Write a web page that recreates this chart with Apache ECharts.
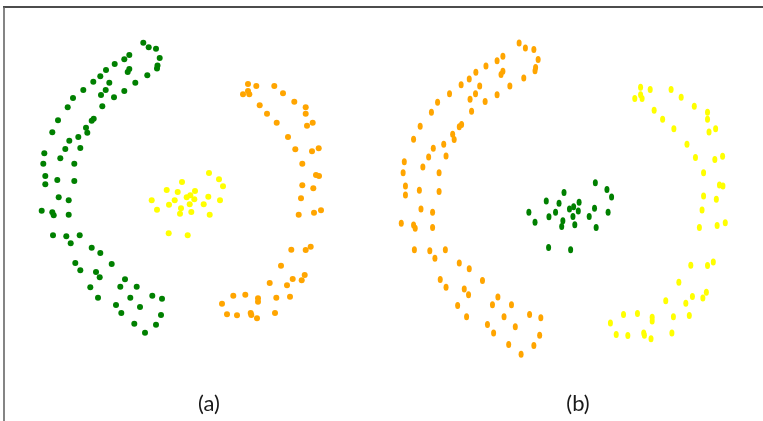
<!DOCTYPE html>
<html>
<head>
<meta charset="utf-8">
<script src="https://cdn.jsdelivr.net/npm/echarts@6/dist/echarts.min.js"></script>
<style>
html,body{margin:0;padding:0;background:#fff;}
#chart{width:763px;height:421px;}
</style>
</head>
<body>
<div id="chart"></div>
<script>
// Data space: x grows right, y grows downward (same for both panels)
const arcLeft = [
 [143.3,42.7],[148.7,47.3],[156,48.7],[159.7,58],[129.3,55],[124.3,59.3],[157.5,65.5],[157,68.5],
 [114.7,64],[129.3,69],[127.7,72],[106,70],[147.3,75.3],[100.3,76.3],[135.3,82.7],[93.3,81.7],
 [109.3,82.7],[105.7,90],[124.3,91],[83.3,90],[101,95],[114,97.3],[73,98],[67.7,107.3],
 [102.3,106.3],[93.7,118.7],[91.7,120.7],[58,120.3],[86,127.7],[87.3,132.7],[52.3,132.3],
 [78.3,137],[69.3,140.7],[65.3,149],[80.3,148],[44.3,153.3],[60.3,158.3],[43.3,163.7],
 [74.3,163.7],[45.3,176],[57.3,180],[74.3,181],[45.3,184.3],[58.7,197.3],[68.7,200.3],
 [41.7,210.7],[52.3,212.3],[53.7,215.3],[68.7,214.7],[53,235.3],[66.3,236.3],[79.7,235.3],
 [70.7,243.3],[91.7,247.7],[100.3,253],[75.3,263],[111.7,264],[80.3,270.3],[96,272],
 [99.7,277.3],[125,279.3],[90.3,287.3],[120.3,286.7],[136.7,286.7],[98,297.7],[130.3,297.7],
 [152.3,295.7],[162,298.7],[116,305],[140,307],[121.3,313],[161,315],[134.3,323.7],
 [156,324.7],[145,332.7]
];
const blobCenter = [
 [209,173],[219,179.3],[223,186.3],[182,182],[166.7,190],[177.7,192],[195,191],[186.7,197.3],
 [190.3,195.3],[208.3,196.7],[194.3,199.3],[174.7,200.3],[151.7,200.3],[220,200.3],[169,204.7],
 [189.7,204.3],[203.7,204.3],[157,209.7],[181,208.3],[191.3,212],[180,213.7],[209.7,214.7],
 [168.7,233.3],[187.7,235.3]
];
const arcRight = [
 [248,84],[256.3,86],[274.3,86],[248,91],[243,94.3],[249.3,94.3],[283,93.3],[294.3,101.7],
 [259.7,105.3],[305.7,107.3],[305.7,113.7],[267,113.7],[276.7,122.7],[307,125.7],[312.7,122.7],
 [288,137],[295.3,149.3],[312,151.3],[318.7,148.3],[302.3,163.7],[316,175],[319,176],
 [302.3,185.3],[313.3,188.3],[301,198.3],[298.7,214.7],[314,212.7],[321,210.3],[291.3,249.7],
 [305.7,250],[310.7,246.7],[281,265.7],[269.7,283],[292.7,279],[304.7,275],[301.7,280.3],
 [287,285.3],[233.3,295.7],[245.3,294.7],[258,298.3],[258,301.7],[276.3,297.7],[290,296.7],
 [222,303.7],[227,314.3],[237,315.3],[250.7,313],[251.3,315],[257,318.3],[275,313]
];
const panelLabels = ['(a)', '(b)'];
const colorsA = ['#008000', '#FFFF00', '#FFA500'];   // left arc, center, right arc
const colorsB = ['#FFA500', '#008000', '#FFFF00'];

const chart = echarts.init(document.getElementById('chart'), null, {renderer: 'canvas'});
const X_MIN = 20, X_MAX = 340, Y_MIN = 30, Y_MAX = 345;
const groups = [arcLeft, blobCenter, arcRight];
const series = [];
groups.forEach((g, i) => {
  series.push({type: 'scatter', xAxisIndex: 0, yAxisIndex: 0, data: g, symbol: 'circle',
    symbolSize: 6, itemStyle: {color: colorsA[i], opacity: 1}, clip: false, silent: true});
  series.push({type: 'scatter', xAxisIndex: 1, yAxisIndex: 1, data: g, symbol: 'circle',
    symbolSize: [5, 7], itemStyle: {color: colorsB[i], opacity: 1}, clip: false, silent: true});
});
const axX = (gi) => ({type: 'value', gridIndex: gi, min: X_MIN, max: X_MAX, show: false});
const axY = (gi) => ({type: 'value', gridIndex: gi, min: Y_MIN, max: Y_MAX, inverse: true, show: false});
chart.setOption({
  animation: false,
  backgroundColor: '#ffffff',
  grid: [
    {left: 20, top: 30, width: 320, height: 315},
    {left: 376.1, top: 29.4, width: 371.2, height: 338}
  ],
  xAxis: [axX(0), axX(1)],
  yAxis: [axY(0), axY(1)],
  series: series,
  graphic: [
    {type: 'line', shape: {x1: 3, y1: 7, x2: 763, y2: 7}, style: {stroke: '#111', lineWidth: 1.6}},
    {type: 'line', shape: {x1: 4, y1: 7, x2: 4, y2: 421}, style: {stroke: '#666', lineWidth: 1.6}},
    {type: 'text', x: 209, y: 404, style: {text: panelLabels[0], font: '22px Lato', fill: '#1a1a1a', align: 'center', verticalAlign: 'middle'}},
    {type: 'text', x: 578, y: 404, style: {text: panelLabels[1], font: '22px Lato', fill: '#1a1a1a', align: 'center', verticalAlign: 'middle'}}
  ]
});
</script>
</body>
</html>
